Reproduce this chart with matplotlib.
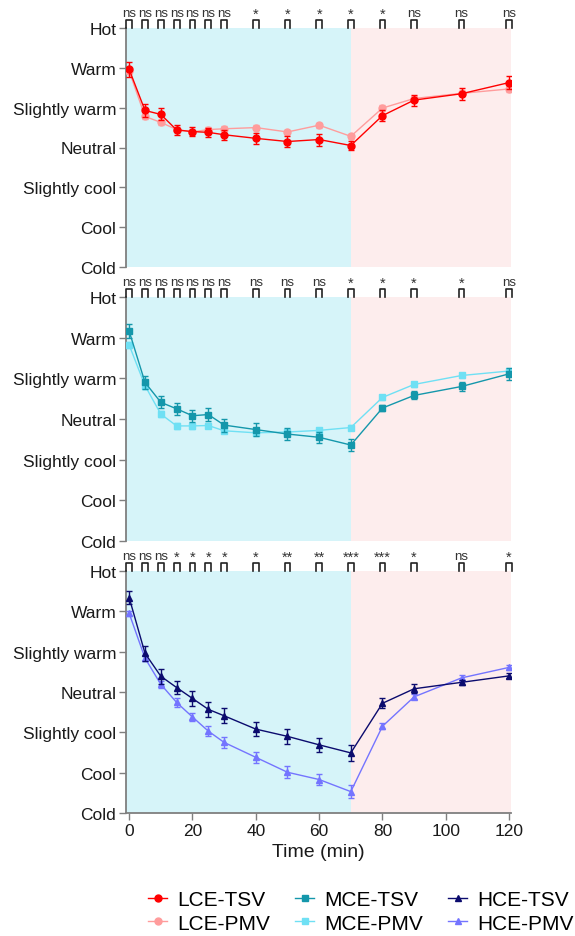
import matplotlib
matplotlib.use('Agg')
import matplotlib.pyplot as plt
from matplotlib.lines import Line2D

plt.rcParams['font.family'] = ['Liberation Sans', 'DejaVu Sans']

# time points (min)
time = [0, 5, 10, 15, 20, 25, 30, 40, 50, 60, 70, 80, 90, 105, 120]

# thermal sensation scale
scale_values = [3, 2, 1, 0, -1, -2, -3]
scale_labels = ['Hot', 'Warm', 'Slightly warm', 'Neutral', 'Slightly cool', 'Cool', 'Cold']

# LCE
lce_tsv = [1.96, 0.93, 0.83, 0.44, 0.40, 0.38, 0.32, 0.23, 0.15, 0.20, 0.05, 0.80, 1.19, 1.35, 1.63]
lce_tsv_err = [0.18, 0.16, 0.15, 0.13, 0.12, 0.12, 0.12, 0.14, 0.13, 0.15, 0.12, 0.14, 0.14, 0.15, 0.17]
lce_pmv = [1.92, 0.78, 0.63, 0.45, 0.39, 0.45, 0.47, 0.50, 0.39, 0.56, 0.28, 0.99, 1.23, 1.36, 1.47]
lce_pmv_err = [0.08, 0.07, 0.07, 0.06, 0.06, 0.06, 0.06, 0.06, 0.06, 0.06, 0.06, 0.07, 0.07, 0.07, 0.07]
lce_sig = ['ns', 'ns', 'ns', 'ns', 'ns', 'ns', 'ns', '*', '*', '*', '*', '*', 'ns', 'ns', 'ns']

# MCE
mce_tsv = [2.16, 0.90, 0.41, 0.25, 0.08, 0.11, -0.15, -0.26, -0.37, -0.45, -0.64, 0.27, 0.58, 0.80, 1.11]
mce_tsv_err = [0.18, 0.16, 0.15, 0.14, 0.15, 0.15, 0.16, 0.15, 0.15, 0.13, 0.15, 0.08, 0.10, 0.12, 0.14]
mce_pmv = [1.82, 0.82, 0.12, -0.17, -0.17, -0.16, -0.29, -0.34, -0.32, -0.28, -0.21, 0.53, 0.85, 1.07, 1.18]
mce_pmv_err = [0.07, 0.07, 0.07, 0.07, 0.07, 0.07, 0.06, 0.06, 0.06, 0.06, 0.06, 0.06, 0.06, 0.06, 0.06]
mce_sig = ['ns', 'ns', 'ns', 'ns', 'ns', 'ns', 'ns', 'ns', 'ns', 'ns', '*', '*', '*', '*', 'ns']

# HCE
hce_tsv = [2.34, 0.96, 0.39, 0.11, -0.16, -0.43, -0.59, -0.92, -1.10, -1.31, -1.51, -0.28, 0.08, 0.24, 0.40]
hce_tsv_err = [0.17, 0.18, 0.18, 0.17, 0.18, 0.18, 0.19, 0.17, 0.19, 0.18, 0.19, 0.12, 0.11, 0.06, 0.06]
hce_pmv = [1.95, 0.84, 0.19, -0.26, -0.62, -0.97, -1.25, -1.62, -1.99, -2.17, -2.47, -0.85, -0.12, 0.35, 0.61]
hce_pmv_err = [0.06, 0.07, 0.08, 0.10, 0.11, 0.13, 0.14, 0.14, 0.15, 0.14, 0.16, 0.07, 0.06, 0.06, 0.07]
hce_sig = ['ns', 'ns', 'ns', '*', '*', '*', '*', '*', '**', '**', '***', '***', '*', 'ns', '*']

cold_end = 70
panels = [
    ('LCE', lce_tsv, lce_tsv_err, lce_pmv, lce_pmv_err, lce_sig, 'o', '#ff0000', '#ff9c9c'),
    ('MCE', mce_tsv, mce_tsv_err, mce_pmv, mce_pmv_err, mce_sig, 's', '#1497ab', '#6fe0f4'),
    ('HCE', hce_tsv, hce_tsv_err, hce_pmv, hce_pmv_err, hce_sig, '^', '#0b0b6e', '#7474ff'),
]

fig = plt.figure(figsize=(5.75, 9.37), dpi=100)
ax_rects = [
    [126 / 575, 1 - 268 / 937, 385 / 575, 239 / 937],
    [126 / 575, 1 - 542 / 937, 385 / 575, 244 / 937],
    [126 / 575, 1 - 814 / 937, 385 / 575, 242 / 937],
]

handles = []
labels = []
for i, (name, tsv, tsv_err, pmv, pmv_err, sig, marker, c_tsv, c_pmv) in enumerate(panels):
    ax = fig.add_axes(ax_rects[i])
    ax.axvspan(-1, cold_end, color='#d6f4f9', lw=0, zorder=0)
    ax.axvspan(cold_end, 121, color='#fdeded', lw=0, zorder=0)

    ax.errorbar(time, pmv, yerr=pmv_err, color=c_pmv, marker=marker, ms=5,
                lw=1, capsize=2.5, elinewidth=1, zorder=3)
    ax.errorbar(time, tsv, yerr=tsv_err, color=c_tsv, marker=marker, ms=5,
                lw=1, capsize=2.5, elinewidth=1, zorder=4)
    handles += [Line2D([], [], color=c_tsv, marker=marker, ms=5, lw=1),
                Line2D([], [], color=c_pmv, marker=marker, ms=5, lw=1)]
    labels += [name + '-TSV', name + '-PMV']

    ax.set_xlim(-1, 120.6)
    ax.set_ylim(-3, 3)
    ax.set_yticks(scale_values)
    ax.set_yticklabels(scale_labels, fontsize=12.5, color='#1a1a1a')
    for side in ['top', 'right']:
        ax.spines[side].set_visible(False)
    ax.spines['left'].set_color('#7f7f7f')
    ax.spines['left'].set_linewidth(1.3)
    ax.tick_params(axis='y', length=5, width=1, color='#7f7f7f', pad=2)

    if i < 2:
        ax.spines['bottom'].set_visible(False)
        ax.set_xticks([])
    else:
        ax.spines['bottom'].set_color('#7f7f7f')
        ax.spines['bottom'].set_linewidth(1.3)
        ax.set_xticks([0, 20, 40, 60, 80, 100, 120])
        ax.tick_params(axis='x', length=5, width=1, color='#7f7f7f', labelsize=12.5,
                       labelcolor='#1a1a1a', pad=2)
        ax.set_xlabel('Time (min)', fontsize=14, color='#1a1a1a', labelpad=4)

    # significance brackets above each time point
    for t, s in zip(time, sig):
        ax.plot([t - 0.9, t - 0.9, t + 0.9, t + 0.9], [3.0, 3.2, 3.2, 3.0],
                color='#222222', lw=1.2, clip_on=False, zorder=5)
        fs = 9.5 if s == 'ns' else 10.5
        ax.text(t, 3.23 if s == 'ns' else 3.17, s, ha='center', va='bottom', fontsize=fs,
                color='#333333', clip_on=False)

fig.legend(handles, labels, ncol=3, loc='upper left', frameon=False, fontsize=15,
           bbox_to_anchor=(138 / 575, 1 - 881 / 937), borderpad=0, handlelength=0.9,
           handletextpad=0.5, columnspacing=1.2, labelspacing=0.2)

fig.savefig('out.png', dpi=100)
